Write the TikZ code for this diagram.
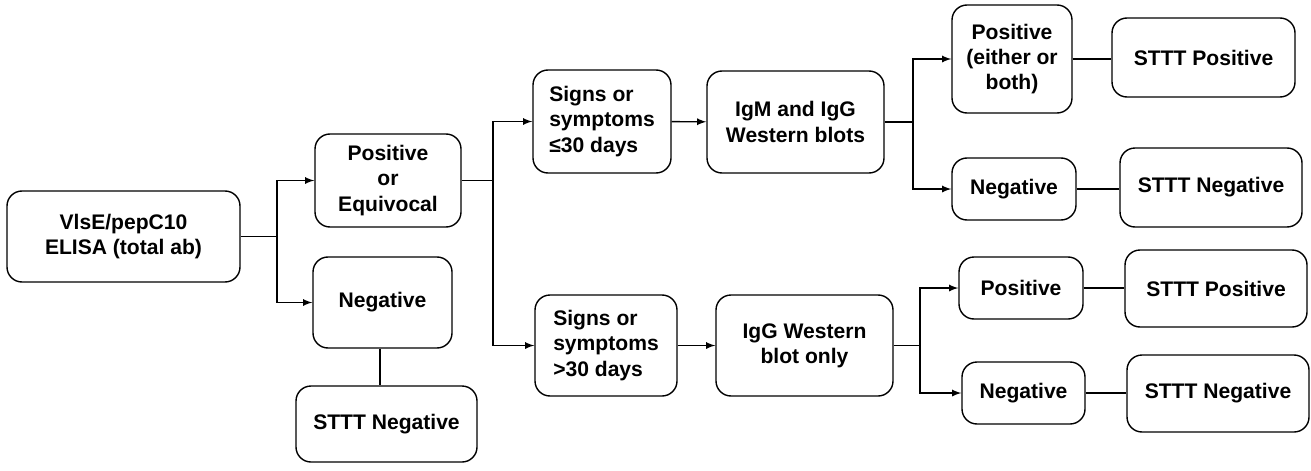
\documentclass[tikz,border=0pt]{standalone}
\usepackage{fontspec}
\setmainfont{Liberation Sans}
\usepackage{tikz}
\usetikzlibrary{arrows,positioning}

\begin{document}
\begin{tikzpicture}[>=latex,line width=0.8pt]
\tikzstyle{box}=[rectangle,rounded corners=0.3cm,draw=black,inner sep=2pt,align=center,font=\fontsize{12}{14.4}\selectfont\bfseries]
\useasboundingbox (0,0) rectangle (26.22,9.4);

\node [box] (elisa) at(2.47,4.67)[minimum width=4.66cm,minimum height=1.82cm] {VlsE/pepC10\\ELISA (total ab)};
\node [box] (poseq) at(7.76,5.79)[minimum width=2.92cm,minimum height=1.86cm] {Positive\\or\\Equivocal};
\node [box] (neg1) at(7.65,3.35)[minimum width=2.78cm,minimum height=1.82cm] {Negative};
\node [box] (sttn1) at(7.73,0.92)[minimum width=3.62cm,minimum height=1.52cm] {STTT Negative};

\node [box] (sign1) at(12.04,6.97)[minimum width=2.76cm,minimum height=2.06cm,align=left] {Signs or\\symptoms\\≤30 days};
\node [box] (igmg) at(15.91,6.96)[minimum width=3.54cm,minimum height=2.04cm] {IgM and IgG\\Western blots};
\node [box] (sign2) at(12.12,2.49)[minimum width=2.84cm,minimum height=2.02cm,align=left] {Signs or\\symptoms\\>30 days};
\node [box] (iggw) at(16.09,2.49)[minimum width=3.54cm,minimum height=2.02cm] {IgG Western\\blot only};

\node [box] (pos1) at(20.24,8.22)[minimum width=2.40cm,minimum height=2.16cm] {Positive\\(either or\\both)};
\node [box] (sttp1) at(24.07,8.25)[minimum width=3.66cm,minimum height=1.58cm] {STTT Positive};
\node [box] (neg2) at(20.28,5.62)[minimum width=2.48cm,minimum height=1.24cm] {Negative};
\node [box] (sttn2) at(24.22,5.65)[minimum width=3.64cm,minimum height=1.58cm] {STTT Negative};
\node [box] (pos2) at(20.42,3.64)[minimum width=2.48cm,minimum height=1.24cm] {Positive};
\node [box] (sttp2) at(24.32,3.63)[minimum width=3.64cm,minimum height=1.54cm] {STTT Positive};
\node [box] (neg3) at(20.47,1.54)[minimum width=2.46cm,minimum height=1.24cm] {Negative};
\node [box] (sttn3) at(24.36,1.53)[minimum width=3.64cm,minimum height=1.54cm] {STTT Negative};

% split points
\coordinate (s1) at (5.54,4.67);
\coordinate (s2) at (9.86,5.79);
\coordinate (s3) at (18.26,6.96);
\coordinate (s4) at (18.40,2.49);

\draw (elisa.east) -- (s1);
\draw[->] (s1) |- (poseq.west);
\draw[->] (s1) |- (neg1.west);
\draw ([xshift=-0.05cm]neg1.south) -- ([xshift=-0.05cm]neg1.south |- sttn1.north);

\draw (poseq.east) -- (s2);
\draw[->] (s2) |- (sign1.west);
\draw[->] (s2) |- (sign2.west);
\draw[->] (sign1) -- (igmg);
\draw[->] (sign2) -- (iggw);

\draw (igmg.east) -- (s3);
\draw[->] (s3) |- (pos1.west);
\draw[->] (s3) |- (neg2.west);
\draw (iggw.east) -- (s4);
\draw[->] (s4) |- (pos2.west);
\draw[->] (s4) |- (neg3.west);

\draw (pos1) -- (pos1 -| sttp1.west);
\draw (neg2) -- (neg2 -| sttn2.west);
\draw (pos2) -- (pos2 -| sttp2.west);
\draw (neg3) -- (neg3 -| sttn3.west);
\end{tikzpicture}
\end{document}
